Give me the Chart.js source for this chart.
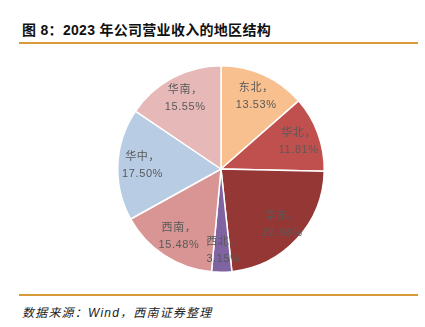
<!DOCTYPE html>
<html>
<head>
<meta charset="utf-8">
<script src="https://cdn.jsdelivr.net/npm/chart.js@4"></script>
<style>
  html, body { margin: 0; padding: 0; background: #fff; }
  body { width: 425px; height: 327px; position: relative; overflow: hidden; }
  .title {
    position: absolute; left: 22px; top: 19px;
    font: bold 14px "Liberation Sans", "Noto Sans CJK SC", sans-serif;
    color: #111; letter-spacing: 0.3px;
  }
  .rule { position: absolute; left: 19px; width: 399px; height: 2px; background: #D99A3C; }
  .source {
    position: absolute; left: 22px; top: 303px;
    font: italic 12px "Liberation Sans", "Noto Sans CJK SC", sans-serif;
    color: #222; letter-spacing: 1.2px;
  }
  #wrap { position: absolute; left: 0; top: 46px; width: 425px; height: 246px; }
</style>
</head>
<body>
<div class="title">图 8：2023 年公司营业收入的地区结构</div>
<div class="rule" style="top:42px"></div>
<div id="wrap"><canvas id="pie"></canvas></div>
<div class="rule" style="top:294px"></div>
<div class="source">数据来源：Wind，西南证券整理</div>

<script>
  // 2023 revenue share by region (%)
  const regions = ['东北', '华北', '华东', '西北', '西南', '华中', '华南'];
  const shares = [13.53, 11.81, 22.98, 3.15, 15.48, 17.50, 15.55];
  const colors = ['#F9C08F', '#C0504D', '#953735', '#8064A2', '#D99594', '#B8CCE4', '#E6B9B8'];

  // two-line labels inside each slice: "name，" then value
  const sliceLabels = {
    id: 'sliceLabels',
    afterDatasetsDraw(chart) {
      const ctx = chart.ctx;
      const meta = chart.getDatasetMeta(0);
      ctx.save();
      ctx.fillStyle = '#595959';
      ctx.font = '11px "Liberation Sans", "Noto Sans CJK SC", sans-serif';
      ctx.letterSpacing = '0.6px';
      ctx.textAlign = 'center';
      ctx.textBaseline = 'middle';
      meta.data.forEach((arc, i) => {
        const mid = (arc.startAngle + arc.endAngle) / 2;
        const r = arc.outerRadius * 0.78;
        const x = arc.x + Math.cos(mid) * r;
        const y = arc.y + Math.sin(mid) * r;
        ctx.fillText(regions[i] + '，', x + 2, y - 8);
        ctx.fillText(shares[i].toFixed(2) + '%', x + 2, y + 9);
      });
      ctx.restore();
    }
  };

  new Chart(document.getElementById('pie').getContext('2d'), {
    type: 'pie',
    data: {
      labels: regions,
      datasets: [{
        data: shares,
        backgroundColor: colors,
        borderColor: '#ffffff',
        borderWidth: 1.5
      }]
    },
    options: {
      responsive: true,
      maintainAspectRatio: false,
      animation: false,
      layout: { padding: { left: 17, top: 19, bottom: 19 } },
      plugins: {
        legend: { display: false },
        tooltip: { enabled: false }
      }
    },
    plugins: [sliceLabels]
  });
</script>
</body>
</html>
